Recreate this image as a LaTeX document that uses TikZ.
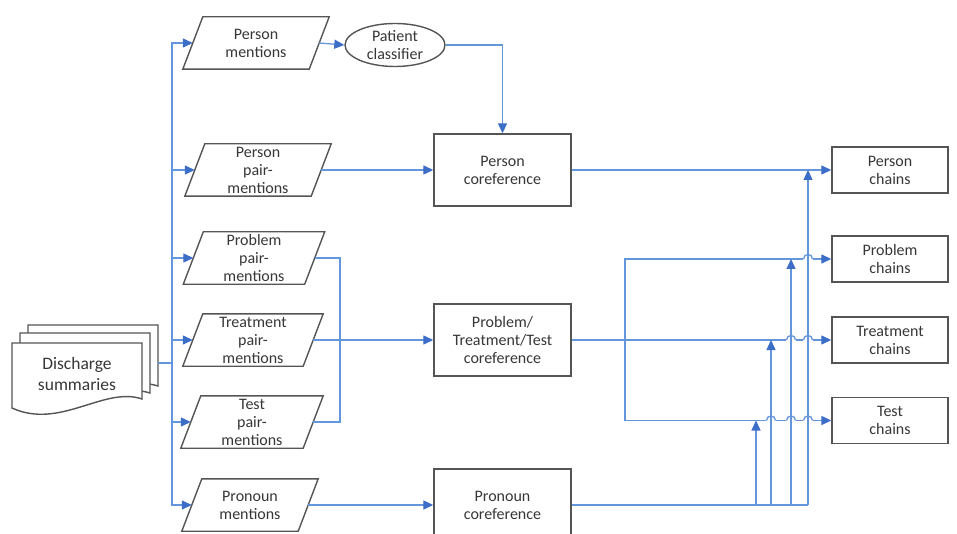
\documentclass[tikz,border=0pt]{standalone}
\usepackage{fontspec}
\setmainfont{Carlito}
\usetikzlibrary{arrows.meta,shapes.geometric}
\definecolor{lineblue}{RGB}{100,150,220}
\definecolor{tipblue}{RGB}{60,110,200}
\definecolor{edgegray}{RGB}{85,85,85}
\definecolor{txtgray}{RGB}{55,55,55}
\begin{document}
\begin{tikzpicture}[x=1pt,y=-1pt,
  conn/.style={draw=lineblue, line width=1.3pt},
  arr/.style={conn, -{Triangle[length=10pt,width=9pt,color=tipblue]}},
  lbl/.style={font=\fontsize{16}{18}\selectfont, text=txtgray, align=center},
  procbox/.style={lbl, draw=edgegray, line width=1.4pt, fill=white, minimum width=137pt, minimum height=72pt, inner sep=0pt},
  chainbox/.style={lbl, draw=edgegray, line width=1.4pt, fill=white, minimum width=116pt, minimum height=46pt, inner sep=0pt},
  paranode/.style={lbl, minimum height=52pt, inner sep=0pt},
  paraline/.style={draw=edgegray, line width=1.4pt, line join=miter},
  sheet/.style={draw=edgegray, line width=1.4pt, fill=white}
]
\useasboundingbox (0,0) rectangle (957,534);
\fill[white] (0,0) rectangle (957,534);
\clip (0,0) rectangle (957,534);

% document stack
\draw[sheet] (28,325) -- (158,325) -- (158,386) .. controls (120,374) and (75,412) .. (28,392) -- cycle;
\draw[sheet] (20,333) -- (150,333) -- (150,393) .. controls (112,381) and (67,420) .. (20,400) -- cycle;
\draw[sheet] (12,343) -- (142,343) -- (142,399) .. controls (104,386) and (60,430) .. (12,408) -- cycle;
\node[lbl, font=\fontsize{17.5}{21}\selectfont] (doc) at (77,374) {Discharge\\summaries};
\coordinate (docr) at (158,363);
\coordinate (tr) at (172,363);

% parallelogram data nodes
\node[paranode, minimum width=126pt] (pm)   at (256,43)  {Person\\mentions};
\node[paranode, minimum width=126pt] (ppm)  at (258,170) {Person\\pair-\\mentions};
\node[paranode, minimum width=121pt] (prob) at (254,258) {Problem\\pair-\\mentions};
\node[paranode, minimum width=120pt] (treat) at (253,340) {Treatment\\pair-\\mentions};
\node[paranode, minimum width=122pt] (test) at (252,422) {Test\\pair-\\mentions};
\node[paranode, minimum width=116pt] (pron) at (250,505) {Pronoun\\mentions};
\foreach \n in {pm,ppm,prob,treat,test,pron}
  \draw[paraline] ([xshift=10pt]\n.north west) -- ([xshift=10pt]\n.north east)
     -- ([xshift=-10pt]\n.south east) -- ([xshift=-10pt]\n.south west) -- cycle;

% classifier and processes
\node[lbl, ellipse, draw=edgegray, line width=1.4pt, fill=white, minimum width=100pt, minimum height=43pt, inner sep=0pt] (pcl) at (395,45) {Patient\\classifier};
\node[procbox] (pcr) at (502.5,170) {Person\\coreference};
\node[procbox] (ptt) at (502.5,340) {Problem/\\Treatment/Test\\coreference};
\node[procbox] (pnc) at (502.5,505) {Pronoun\\coreference};

% output chains
\node[chainbox] (pch)  at (890,170)   {Person\\chains};
\node[chainbox] (prch) at (890,259)   {Problem\\chains};
\node[chainbox] (tch)  at (890,340)   {Treatment\\chains};
\node[chainbox] (tech) at (890,420.5) {Test\\chains};

% left trunk
\draw[conn] (docr) -- (tr);
\foreach \n in {pm,ppm,prob,treat,test,pron}
  \draw[arr] (tr) |- (\n.west);

% middle connectors
\draw[arr] (pm.east) -- (pcl.west);
\draw[arr] (pcl.east) -| (pcr.north);
\draw[arr] (ppm.east) -- (pcr.west);
\coordinate (m) at (340,340);
\draw[conn] (prob.east) -| (m);
\draw[conn] (test.east) -| (m);
\draw[arr] (treat.east) -- (ptt.west);
\draw[arr] (pron.east) -- (pnc.west);

% right connectors
\coordinate (j) at (625,340);
\draw[arr] (pcr.east) -- (pch.west);
\draw[arr] (ptt.east) -- (tch.west);
\draw[arr] (j) |- (prch.west);
\draw[arr] (j) |- (tech.west);

% line hops
\foreach \x/\y in {771/420.5, 791/420.5, 808/420.5, 791/340, 808/340, 808/259} {
  \fill[white] (\x-4.8,\y-1.3) rectangle (\x+4.8,\y+1.3);
  \draw[conn] (\x-4.5,\y) .. controls (\x-4.5,\y-6) and (\x+4.5,\y-6) .. (\x+4.5,\y);
}

% pronoun fan-out
\coordinate (b1) at (756,505);
\coordinate (b2) at (771,505);
\coordinate (b3) at (791,505);
\coordinate (b4) at (808,505);
\draw[conn] (pnc.east) -- (b4);
\draw[arr] (b1) -- (b1 |- tech.west);
\draw[arr] (b2) -- (b2 |- tch.west);
\draw[arr] (b3) -- (b3 |- prch.west);
\draw[arr] (b4) -- (b4 |- pch.west);
\end{tikzpicture}
\end{document}
